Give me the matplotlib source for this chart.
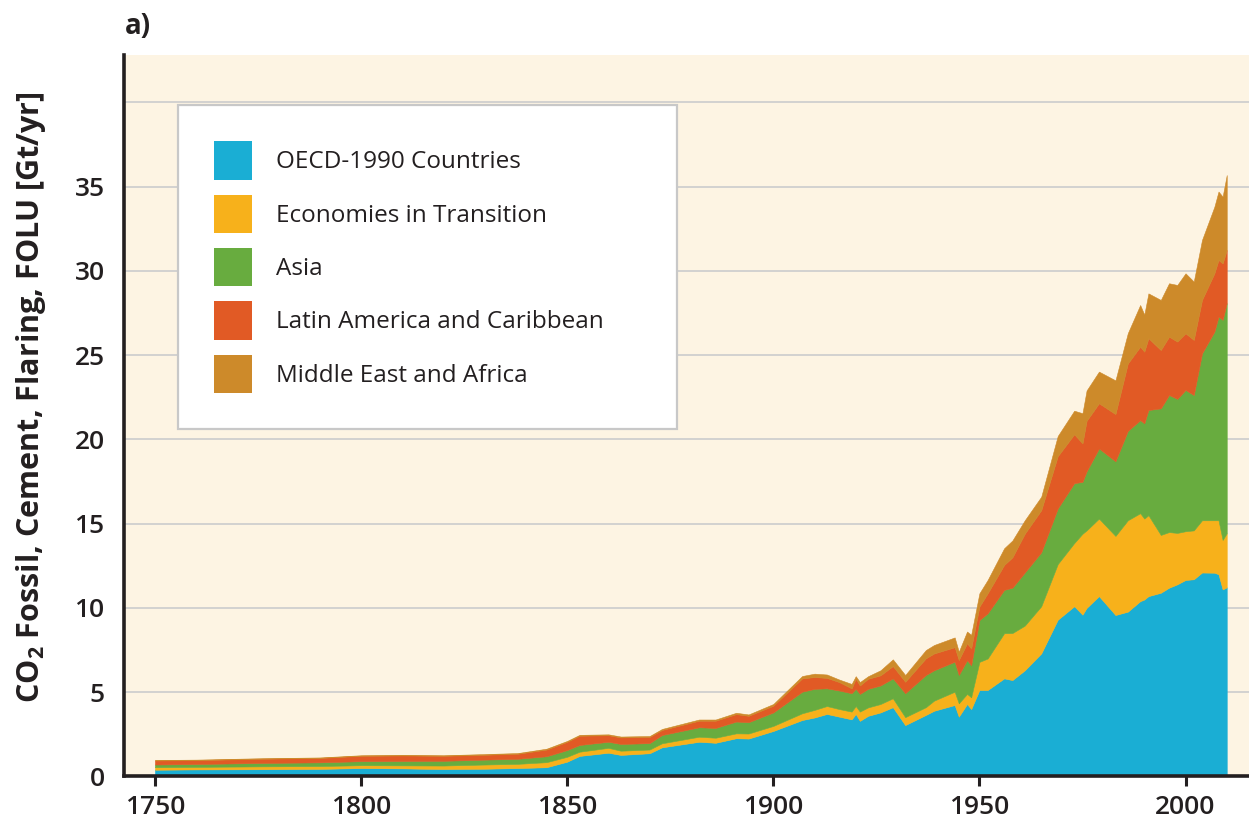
import matplotlib
matplotlib.use("Agg")
import matplotlib.pyplot as plt
from matplotlib.patches import Patch

years = [1750, 1760, 1775, 1790, 1800, 1810, 1820, 1830, 1838, 1845,
         1850, 1853, 1860, 1863, 1870, 1873, 1882, 1886, 1891, 1894,
         1900, 1907, 1910, 1913, 1916, 1919, 1920, 1921, 1923, 1926,
         1929, 1932, 1937, 1939, 1944, 1945, 1947, 1948, 1950, 1952,
         1956, 1958, 1961, 1965, 1969, 1973, 1975, 1976, 1979, 1983,
         1986, 1989, 1990, 1991, 1994, 1996, 1998, 2000, 2002, 2004,
         2007, 2008, 2009, 2010]

oecd = [0.40, 0.42, 0.43, 0.45, 0.50, 0.48, 0.44, 0.46, 0.50, 0.55,
        0.88, 1.22, 1.41, 1.28, 1.38, 1.73, 2.06, 2.00, 2.27, 2.25,
        2.70, 3.35, 3.50, 3.71, 3.55, 3.39, 3.71, 3.30, 3.60, 3.80,
        4.11, 3.05, 3.65, 3.90, 4.24, 3.55, 4.30, 4.00, 5.13, 5.13,
        5.82, 5.72, 6.30, 7.30, 9.30, 10.10, 9.60, 10.00, 10.70, 9.58,
        9.78, 10.40, 10.50, 10.70, 10.90, 11.20, 11.40, 11.66, 11.70, 12.10,
        12.09, 12.00, 11.10, 11.22]

eit = [0.15, 0.15, 0.17, 0.17, 0.17, 0.18, 0.21, 0.25, 0.25, 0.30,
       0.29, 0.25, 0.29, 0.25, 0.22, 0.24, 0.30, 0.30, 0.29, 0.30,
       0.30, 0.40, 0.45, 0.47, 0.45, 0.46, 0.47, 0.55, 0.50, 0.50,
       0.53, 0.47, 0.46, 0.60, 0.79, 0.79, 0.60, 0.70, 1.67, 1.87,
       2.68, 2.79, 2.65, 2.80, 3.30, 3.75, 4.80, 4.60, 4.60, 4.69,
       5.42, 5.22, 4.80, 4.80, 3.43, 3.30, 3.05, 2.89, 2.90, 3.10,
       3.11, 3.20, 2.93, 3.21]

asia = [0.16, 0.17, 0.20, 0.22, 0.24, 0.26, 0.28, 0.29, 0.30, 0.35,
        0.40, 0.40, 0.36, 0.40, 0.38, 0.49, 0.56, 0.58, 0.70, 0.67,
        0.80, 1.28, 1.25, 1.05, 1.10, 1.09, 1.02, 1.05, 1.10, 1.10,
        1.18, 1.42, 1.91, 1.80, 1.78, 1.68, 2.00, 1.90, 2.48, 2.68,
        2.57, 2.69, 3.15, 3.20, 3.30, 3.55, 3.08, 3.50, 4.16, 4.43,
        5.30, 5.52, 5.65, 6.24, 7.51, 8.13, 7.95, 8.38, 8.03, 9.90,
        11.19, 12.08, 13.06, 13.65]

latam = [0.24, 0.23, 0.25, 0.26, 0.32, 0.33, 0.30, 0.29, 0.30, 0.40,
         0.49, 0.55, 0.39, 0.39, 0.37, 0.30, 0.39, 0.43, 0.44, 0.38,
         0.40, 0.79, 0.70, 0.62, 0.50, 0.29, 0.60, 0.50, 0.60, 0.60,
         0.73, 0.68, 0.99, 1.00, 0.86, 0.89, 1.00, 1.00, 0.80, 1.19,
         1.48, 1.80, 2.30, 2.50, 3.10, 2.90, 2.28, 3.00, 2.68, 2.80,
         4.00, 4.36, 4.25, 4.26, 3.46, 3.46, 3.40, 3.36, 3.27, 3.17,
         3.46, 3.36, 3.35, 3.15]

mea = [0.03, 0.03, 0.03, 0.03, 0.03, 0.03, 0.03, 0.04, 0.04, 0.05,
       0.05, 0.05, 0.05, 0.05, 0.05, 0.06, 0.07, 0.07, 0.08, 0.08,
       0.10, 0.14, 0.20, 0.20, 0.15, 0.26, 0.15, 0.20, 0.15, 0.30,
       0.40, 0.40, 0.49, 0.50, 0.58, 0.49, 0.70, 0.80, 0.79, 0.79,
       0.99, 1.00, 0.80, 0.80, 1.20, 1.40, 1.79, 1.80, 1.88, 2.00,
       1.80, 2.47, 2.20, 2.66, 2.97, 3.17, 3.36, 3.56, 3.46, 3.56,
       3.95, 4.06, 3.96, 4.45]

labels = ["OECD-1990 Countries", "Economies in Transition", "Asia",
          "Latin America and Caribbean", "Middle East and Africa"]
colors = ["#1AAED4", "#F7B11B", "#68AC3F", "#E15A25", "#CD8A2A"]

xticks = [1750, 1800, 1850, 1900, 1950, 2000]
yticks = [0, 5, 10, 15, 20, 25, 30, 35]
grid_y = [5, 10, 15, 20, 25, 30, 35, 40]

plt.rcParams['font.family'] = ['Open Sans', 'DejaVu Sans']
plt.rcParams['mathtext.fontset'] = 'custom'
plt.rcParams['mathtext.rm'] = 'Open Sans'
plt.rcParams['mathtext.bf'] = 'Open Sans:bold'

text_color = "#231F20"
fig = plt.figure(figsize=(12.49, 8.25), dpi=100)
fig.patch.set_facecolor("white")
ax = fig.add_axes([0.0993, 0.0588, 0.9007, 0.8745])
ax.set_facecolor("#FDF4E3")

for g in grid_y:
    ax.axhline(g, color="#CFCFCF", lw=1.3, zorder=1)

polys = ax.stackplot(years, oecd, eit, asia, latam, mea, colors=colors,
                     linewidth=0.4, zorder=2)
for p, c in zip(polys, colors):
    p.set_edgecolor(c)

ax.set_xlim(1742.5, 2015.4)
ax.set_ylim(0, 42.8)
ax.set_xticks(xticks)
ax.set_xticklabels([str(t) for t in xticks])
ax.set_yticks(yticks)
ax.set_yticklabels([str(t) for t in yticks])
ax.tick_params(axis='x', direction='out', length=7, width=2.2, colors=text_color,
               labelsize=19, pad=6)
ax.tick_params(axis='y', length=0, labelsize=19, pad=14, colors=text_color)
for lab in ax.get_xticklabels() + ax.get_yticklabels():
    lab.set_fontweight('semibold')

for s in ['top', 'right']:
    ax.spines[s].set_visible(False)
ax.spines['left'].set_linewidth(2.6)
ax.spines['bottom'].set_linewidth(2.6)
ax.spines['left'].set_color(text_color)
ax.spines['bottom'].set_color(text_color)

ax.set_ylabel(r"CO$_\mathbf{2}$ Fossil, Cement, Flaring, FOLU [Gt/yr]",
              fontsize=22, fontweight='bold', color=text_color)
ax.yaxis.set_label_coords(-0.068, 0.526)

handles = [Patch(facecolor=c, edgecolor='none') for c in colors]
leg = ax.legend(handles, labels, loc='upper left',
                bbox_to_anchor=(0.048, 0.4802, 0.4436, 0.4505), mode='expand',
                borderaxespad=0, fontsize=17.5, fancybox=False, framealpha=1,
                borderpad=1.5, handlelength=1.55, handleheight=2.03,
                handletextpad=1.0, labelspacing=0.63)
leg.get_frame().set_edgecolor("#C8C8C8")
leg.get_frame().set_linewidth(1.6)
leg.set_zorder(5)
for t in leg.get_texts():
    t.set_color(text_color)

fig.text(0.1, 0.968, "a)", fontsize=20, fontweight='bold', color=text_color,
         ha='left', va='center')

fig.savefig("out.png", dpi=100)
